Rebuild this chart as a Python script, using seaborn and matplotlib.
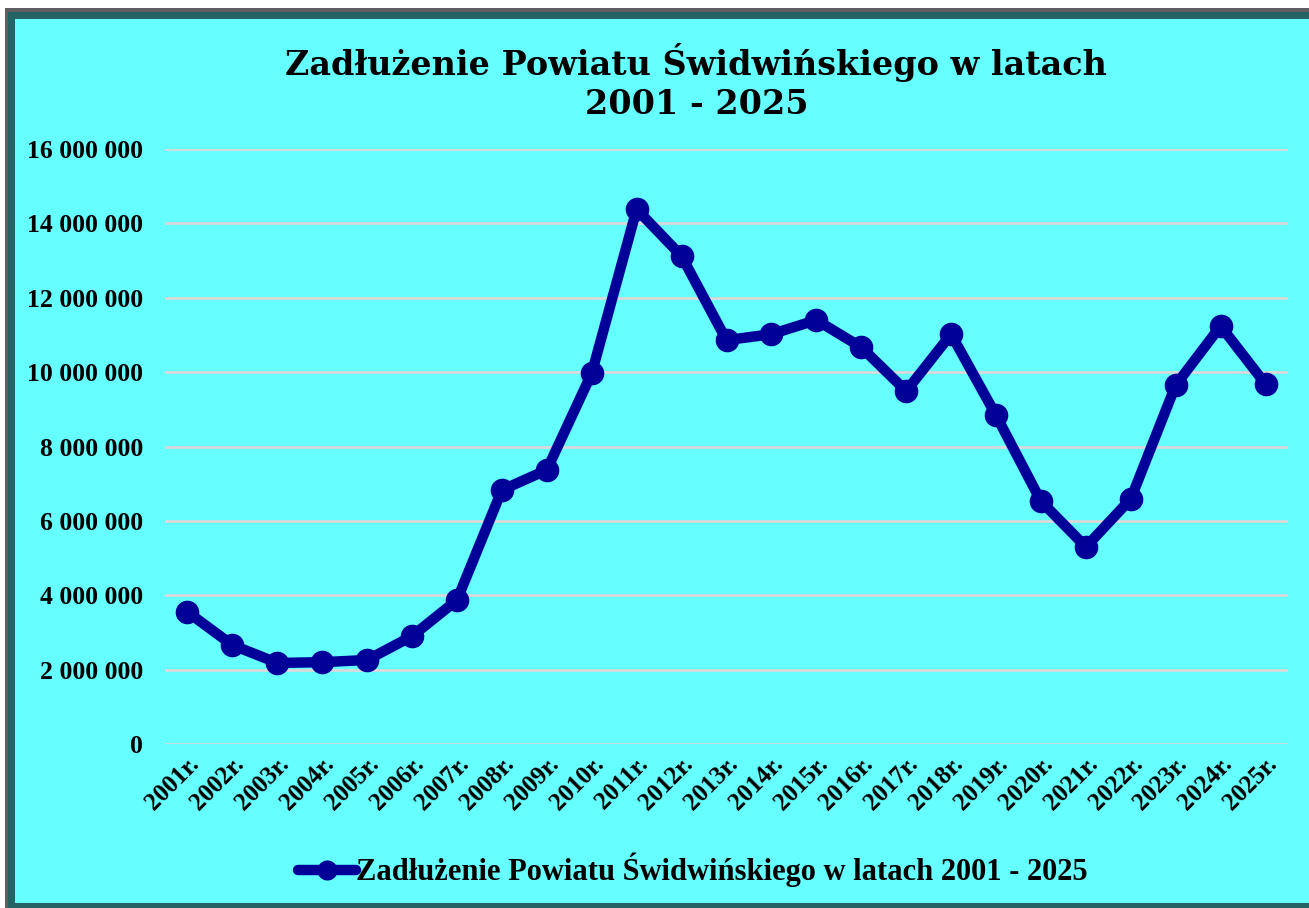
import numpy as np
import pandas as pd
import matplotlib
matplotlib.use("Agg")
import matplotlib.pyplot as plt
import seaborn as sns
from matplotlib.patches import Rectangle
from matplotlib.ticker import FuncFormatter

# ── Data ───────────────────────────────────────────────────────
years = [f"{y}r." for y in range(2001, 2026)]
debt = [3550000, 2660000, 2180000, 2200000, 2260000, 2900000, 3870000,
        6830000, 7370000, 9970000, 14380000, 13120000, 10860000, 11020000,
        11400000, 10670000, 9490000, 11020000, 8840000, 6530000, 5300000,
        6590000, 9650000, 11240000, 9680000]
series_name = "Zadłużenie Powiatu Świdwińskiego w latach 2001 - 2025"
title = "Zadłużenie Powiatu Świdwińskiego w latach\n2001 - 2025"

# ── Style ──────────────────────────────────────────────────────
sns.set_style("white")
plt.rcParams["font.family"] = ["Liberation Serif", "DejaVu Serif"]
plt.rcParams["text.color"] = "black"
CYAN = "#66FFFF"
LINE = "#000099"

df = pd.DataFrame({"Rok": years, "Zadłużenie": debt, "Seria": series_name})

fig = plt.figure(figsize=(13.09, 9.08), dpi=100)
fig.patch.set_facecolor("white")

W, H = 1309, 908


def frame_rect(x0, y0, y1, color, z):
    # pixel coords from top-left, extends past right edge
    fig.patches.append(Rectangle((x0 / W, 1 - y1 / H), 1.1, (y1 - y0) / H,
                                 transform=fig.transFigure, facecolor=color,
                                 edgecolor="none", linewidth=0, zorder=z))


frame_rect(5, 8, 912, "#606060", -3)
frame_rect(8, 12, 912, "#246464", -2)
frame_rect(15, 19, 903, CYAN, -1)

ax = fig.add_axes([165 / W, 1 - 744 / H, (1288 - 165) / W, (744 - 149) / H])
ax.set_facecolor("none")

sns.lineplot(data=df, x="Rok", y="Zadłużenie", hue="Seria", palette=[LINE],
             marker="o", markersize=17, linewidth=7.5, markeredgewidth=0,
             ax=ax, sort=False)

ax.set_xlim(-0.5, len(years) - 0.5)
ax.set_ylim(0, 16000000)
ax.set_yticks(np.arange(0, 16000001, 2000000))
ax.yaxis.set_major_formatter(FuncFormatter(lambda v, p: f"{int(v):,}".replace(",", " ")))
ax.grid(axis="y", color="#D9D9D9", linewidth=2)
ax.set_axisbelow(True)
for s in ax.spines.values():
    s.set_visible(False)
ax.tick_params(axis="both", length=0)
ax.tick_params(axis="y", pad=16)
ax.tick_params(axis="x", pad=6)
plt.setp(ax.get_yticklabels(), fontsize=18.5, fontweight="bold", color="black")
plt.setp(ax.get_xticklabels(), fontsize=18, fontweight="bold", rotation=45,
         ha="right", rotation_mode="anchor", color="black")
ax.set_xlabel("")
ax.set_ylabel("")

fig.text(0.532, 1 - 82 / H, title, ha="center", va="center", fontsize=24,
         fontweight="bold", family="DejaVu Serif", linespacing=1.2,
         color="black")

leg = ax.legend(loc="center", bbox_to_anchor=(0.529, 1 - 870 / H),
                bbox_transform=fig.transFigure, frameon=False,
                prop={"weight": "bold", "size": 22}, handlelength=1.9,
                handletextpad=0.0, markerscale=0.85)
for t in leg.get_texts():
    t.set_color("black")

fig.savefig("out.png", dpi=100, facecolor=fig.get_facecolor())
